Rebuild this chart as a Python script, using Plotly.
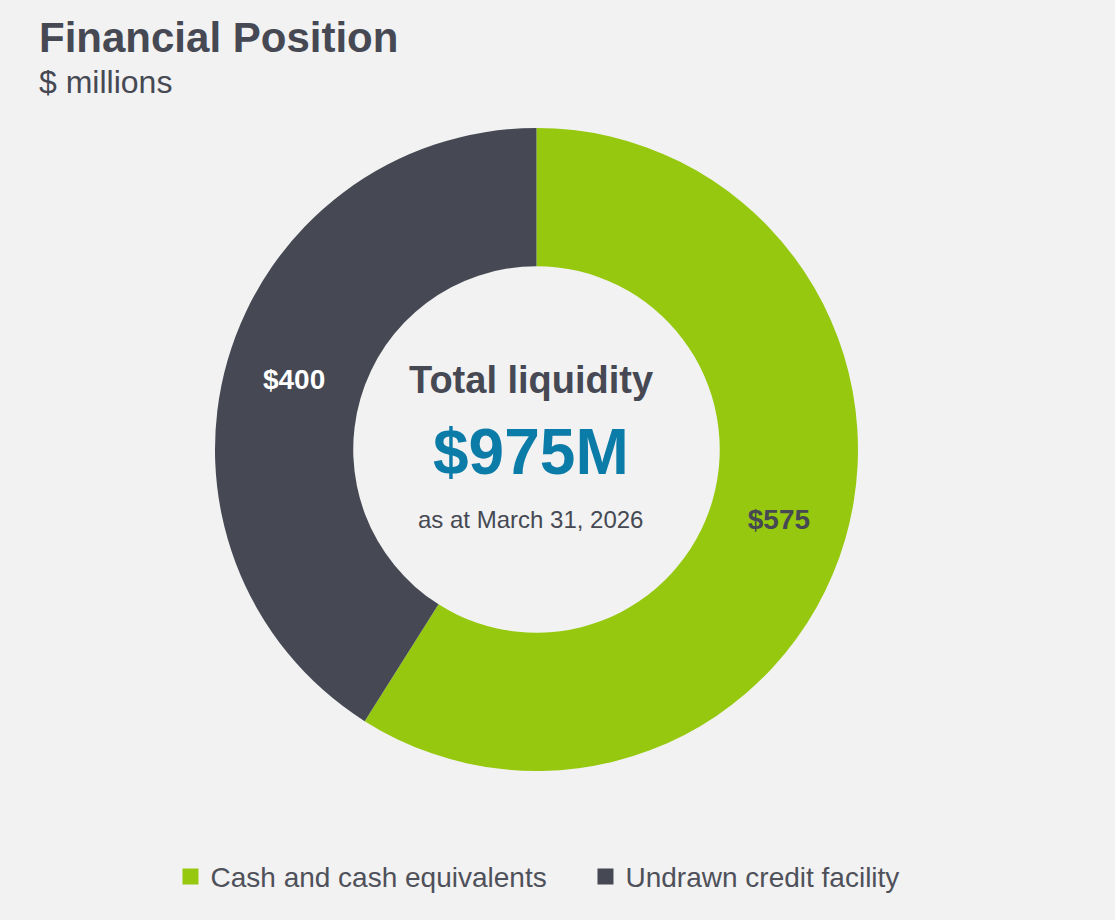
"""Financial position donut chart."""
import plotly.graph_objects as go

# data
categories = ["Cash and cash equivalents", "Undrawn credit facility"]
values = [575, 400]
total_label = "$975M"
as_at_label = "as at March 31, 2026"

GREEN = "#95C80E"
DARK = "#464953"
BLUE = "#0B7BA7"
BG = "#F2F2F2"
FONT = "Liberation Sans, Arial, sans-serif"

fig = go.Figure()

fig.add_trace(
    go.Pie(
        labels=categories,
        values=values,
        sort=False,
        direction="clockwise",
        rotation=0,
        hole=0.57,
        marker=dict(colors=[GREEN, DARK], line=dict(width=0)),
        texttemplate="<b>$%{value}</b>",
        textposition="inside",
        insidetextorientation="horizontal",
        insidetextfont=dict(family=FONT, size=28, color=[DARK, "white"]),
        domain=dict(x=[0.1928, 0.7695], y=[0.1620, 0.8609]),
        showlegend=False,
        hoverinfo="label+value",
    )
)

# legend entries with larger square swatches
for name, color in zip(categories, [GREEN, DARK]):
    fig.add_trace(
        go.Scatter(
            x=[None],
            y=[None],
            mode="markers",
            name=name,
            marker=dict(symbol="square", size=16, color=color),
            showlegend=True,
        )
    )

annotations = [
    dict(text="<b>Financial Position</b>", x=0.0332, y=0.9587, xanchor="left", yanchor="middle",
         font=dict(family=FONT, size=42, color=DARK)),
    dict(text="$ millions", x=0.0332, y=0.9109, xanchor="left", yanchor="middle",
         font=dict(family=FONT, size=32, color=DARK)),
    dict(text="<b>Total liquidity</b>", x=0.4762, y=0.587, xanchor="center", yanchor="middle",
         font=dict(family=FONT, size=38, color=DARK)),
    dict(text=f"<b>{total_label}</b>", x=0.4762, y=0.5087, xanchor="center", yanchor="middle",
         font=dict(family=FONT, size=64, color=BLUE)),
    dict(text=as_at_label, x=0.4762, y=0.4352, xanchor="center", yanchor="middle",
         font=dict(family=FONT, size=24, color=DARK)),
]
for a in annotations:
    a.update(xref="paper", yref="paper", showarrow=False)

fig.update_layout(
    width=1115,
    height=920,
    margin=dict(l=0, r=0, t=0, b=0),
    paper_bgcolor=BG,
    plot_bgcolor=BG,
    font=dict(family=FONT, color=DARK),
    xaxis=dict(visible=False),
    yaxis=dict(visible=False),
    annotations=annotations,
    legend=dict(
        orientation="h",
        x=0.1529,
        xanchor="left",
        y=0.047,
        yanchor="middle",
        entrywidth=370,
        font=dict(family=FONT, size=28, color="#4F515A"),
        bgcolor="rgba(0,0,0,0)",
        itemclick=False,
        itemdoubleclick=False,
    ),
)

fig.write_html(
    "out.html",
    config={"displayModeBar": False},
    post_script="document.body.style.margin='0';",
)
